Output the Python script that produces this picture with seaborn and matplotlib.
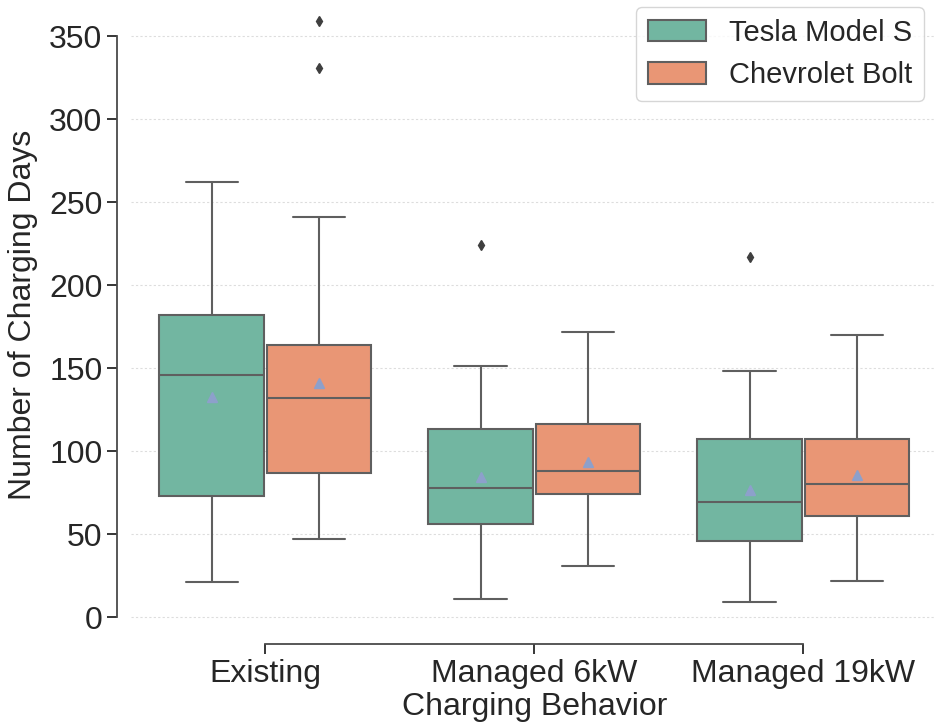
import numpy as np
import pandas as pd
import seaborn as sns
import matplotlib
matplotlib.use("Agg")
import matplotlib.pyplot as plt

# charging days per simulated driver
behaviors = ["Existing", "Managed 6kW", "Managed 19kW"]
vehicles = ["Tesla Model S", "Chevrolet Bolt"]

tesla_existing = [21, 45, 73, 105, 146, 165, 182, 194, 262]
bolt_existing = [47, 50, 58, 66, 78, 87, 90, 96, 105, 120, 132,
                 134, 138, 145, 155, 164, 168, 197, 241, 331, 359]
tesla_6kw = [11, 20, 35, 56, 58, 64, 78, 82, 92, 113, 116, 151, 224]
bolt_6kw = [31, 55, 74, 80, 88, 100, 116, 123, 172]
tesla_19kw = [9, 12, 25, 46, 48, 55, 69, 72, 80, 107, 108, 148, 217]
bolt_19kw = [22, 45, 61, 70, 80, 95, 107, 120, 170]

groups = {
    ("Existing", "Tesla Model S"): tesla_existing,
    ("Existing", "Chevrolet Bolt"): bolt_existing,
    ("Managed 6kW", "Tesla Model S"): tesla_6kw,
    ("Managed 6kW", "Chevrolet Bolt"): bolt_6kw,
    ("Managed 19kW", "Tesla Model S"): tesla_19kw,
    ("Managed 19kW", "Chevrolet Bolt"): bolt_19kw,
}

rows = []
for (beh, veh), vals in groups.items():
    for v in vals:
        rows.append({"Charging Behavior": beh, "Vehicle": veh, "days": v})
df = pd.DataFrame(rows)

sns.set_style("ticks")
plt.rcParams["font.family"] = ["Liberation Sans", "DejaVu Sans"]
palette = sns.color_palette("Set2")

fig = plt.figure(figsize=(9.35, 7.27), dpi=100)
ax = fig.add_axes([0.140, 0.133, 0.863, 0.8677])

sns.boxplot(
    data=df, x="Charging Behavior", y="days", hue="Vehicle",
    order=behaviors, hue_order=vehicles, palette=palette[:2],
    saturation=0.75, width=0.8, gap=0.03, showmeans=True, linewidth=1.5,
    linecolor="#5f5f5f",
    meanprops=dict(marker="^", markerfacecolor=palette[2],
                   markeredgecolor=palette[2], markersize=7),
    flierprops=dict(marker="d", markerfacecolor="#3f3f3f",
                    markeredgecolor="#3f3f3f", markersize=5),
    ax=ax,
)

ax.set_ylim(-8, 372)
ax.set_yticks([0, 50, 100, 150, 200, 250, 300, 350])
ax.yaxis.grid(True, linestyle=(0, (2, 2)), color="#dddddd", linewidth=0.8)
ax.set_axisbelow(True)

ax.set_xlabel("Charging Behavior", fontsize=23, color="#262626", labelpad=2)
ax.set_ylabel("Number of Charging Days", fontsize=23, color="#262626", labelpad=8)
ax.tick_params(axis="both", labelsize=23, colors="#262626", width=1.3, length=7)
for sp in ax.spines.values():
    sp.set_linewidth(1.3)
    sp.set_color("#4a4a4a")

ax.legend(loc="upper right", bbox_to_anchor=(0.983, 0.988), fontsize=21,
          frameon=True, title=None, borderaxespad=0, handlelength=2.0,
          handleheight=0.75, handletextpad=0.8)

sns.despine(ax=ax, offset=10, trim=True)

fig.savefig("out.png", dpi=100)
